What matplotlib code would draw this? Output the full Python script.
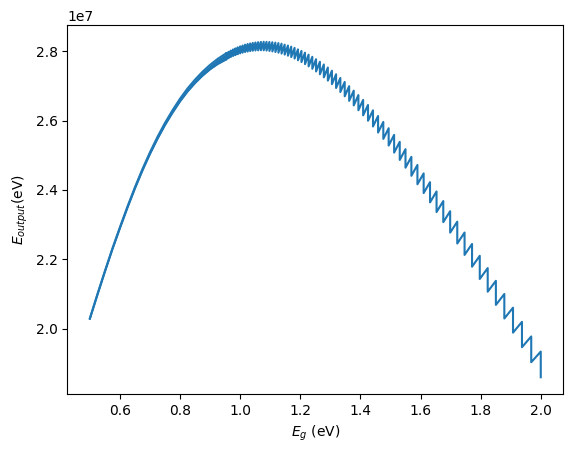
import numpy as np
import matplotlib
matplotlib.use("Agg")
import matplotlib.pyplot as plt

# all energies below in units of 1e7 eV

# low band gaps: the steps are too dense to resolve, so the curve is a thin band
eg_low = [0.500, 0.525, 0.550, 0.575, 0.600, 0.625, 0.650, 0.675, 0.700, 0.725,
          0.750, 0.775, 0.800, 0.825, 0.850, 0.875, 0.900, 0.925, 0.9538]
e_low_top = [2.0298, 2.0990, 2.1662, 2.2313, 2.2925, 2.3518, 2.4080, 2.4603, 2.5085, 2.5529,
             2.5933, 2.6296, 2.6630, 2.6925, 2.7180, 2.7408, 2.7605, 2.7775, 2.7939]
e_low_bot = [2.0283, 2.0971, 2.1639, 2.2287, 2.2895, 2.3483, 2.4040, 2.4558, 2.5035, 2.5471,
             2.5868, 2.6224, 2.6550, 2.6835, 2.7080, 2.7293, 2.7475, 2.7625, 2.7761]

# band gaps where the output drops (one step per photon bin), with value just before / after the drop
jump_eg = [0.9538, 0.9612, 0.9688, 0.9764, 0.9841, 0.9920, 1.0000, 1.0081, 1.0164, 1.0248,
           1.0333, 1.0420, 1.0508, 1.0598, 1.0690, 1.0783, 1.0877, 1.0973, 1.1071, 1.1171,
           1.1273, 1.1376, 1.1481, 1.1589, 1.1698, 1.1810, 1.1923, 1.2039, 1.2157, 1.2277,
           1.2400, 1.2525, 1.2653, 1.2784, 1.2917, 1.3053, 1.3191, 1.3333, 1.3478, 1.3626,
           1.3778, 1.3933, 1.4091, 1.4253, 1.4419, 1.4588, 1.4762, 1.4940, 1.5122, 1.5309,
           1.5500, 1.5696, 1.5897, 1.6104, 1.6316, 1.6533, 1.6757, 1.6986, 1.7222, 1.7465,
           1.7714, 1.7971, 1.8235, 1.8507, 1.8788, 1.9077, 1.9375, 1.9683, 2.0000]
e_top = [2.7939, 2.7977, 2.8015, 2.8048, 2.8078, 2.8109, 2.8137, 2.8161, 2.8185, 2.8205,
         2.8221, 2.8236, 2.8248, 2.8257, 2.8265, 2.8269, 2.8267, 2.8263, 2.8255, 2.8244,
         2.8231, 2.8213, 2.8187, 2.8161, 2.8129, 2.8094, 2.8051, 2.8006, 2.7955, 2.7898,
         2.7836, 2.7767, 2.7694, 2.7615, 2.7527, 2.7435, 2.7333, 2.7226, 2.7112, 2.6990,
         2.6861, 2.6732, 2.6594, 2.6448, 2.6294, 2.6130, 2.5959, 2.5778, 2.5586, 2.5385,
         2.5174, 2.4952, 2.4718, 2.4476, 2.4223, 2.3955, 2.3678, 2.3386, 2.3084, 2.2771,
         2.2442, 2.2101, 2.1747, 2.1379, 2.0999, 2.0605, 2.0197, 1.9776, 1.9340]
e_bot = [2.7761, 2.7795, 2.7830, 2.7859, 2.7885, 2.7912, 2.7935, 2.7955, 2.7973, 2.7988,
         2.8000, 2.8011, 2.8018, 2.8022, 2.8025, 2.8023, 2.8016, 2.8005, 2.7992, 2.7975,
         2.7956, 2.7929, 2.7899, 2.7867, 2.7827, 2.7785, 2.7736, 2.7684, 2.7624, 2.7560,
         2.7490, 2.7413, 2.7332, 2.7244, 2.7149, 2.7047, 2.6936, 2.6821, 2.6697, 2.6565,
         2.6435, 2.6296, 2.6148, 2.5992, 2.5827, 2.5653, 2.5470, 2.5278, 2.5075, 2.4863,
         2.4640, 2.4406, 2.4162, 2.3908, 2.3640, 2.3361, 2.3071, 2.2768, 2.2454, 2.2126,
         2.1785, 2.1432, 2.1065, 2.0685, 2.0293, 1.9886, 1.9466, 1.9033, 1.8600]

scale = 1e7

# sawtooth path: top of each drop, then bottom, then rise to the next top
saw_x = np.repeat(jump_eg, 2)
saw_y = np.empty(len(saw_x))
saw_y[0::2] = e_top
saw_y[1::2] = e_bot

fig = plt.figure(figsize=(5.72, 4.53), dpi=100)
ax = fig.add_axes([0.1177, 0.1302, 0.8671, 0.8146])

col = "C0"
low_top = np.array(e_low_top) * scale
low_bot = np.array(e_low_bot) * scale
ax.fill_between(eg_low, low_bot, low_top, color=col, lw=0)
ax.plot(eg_low, low_top, color=col)
ax.plot(eg_low, low_bot, color=col)
ax.plot(saw_x, saw_y * scale, color=col)

ax.set_xlabel(r"$E_g$ (eV)")
ax.set_ylabel(r"$E_{output}$(eV)")

fig.savefig("out.png", dpi=100)
